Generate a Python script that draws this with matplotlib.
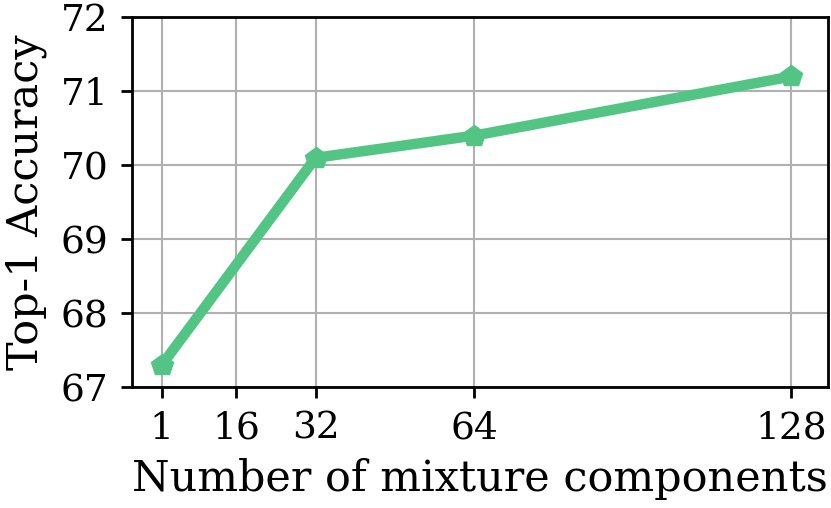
import numpy as np
import matplotlib.pyplot as plt

plt.rcParams['font.family'] = 'DejaVu Serif'

components = [1, 32, 64, 128]
accuracy = [67.3, 70.1, 70.4, 71.2]
xticks = [1, 16, 32, 64, 128]
yticks = [67, 68, 69, 70, 71, 72]

fig, ax = plt.subplots(figsize=(8.31, 5.08), dpi=100)
ax.plot(components, accuracy, color='#52c584', linewidth=7.5, marker='p',
        markersize=16, zorder=3)
ax.set_xticks(xticks)
ax.set_yticks(yticks)
ax.set_xlim(-5, 135.3)
ax.set_ylim(67, 72)
ax.grid(True, color='#b0b0b0', linewidth=1.5)
ax.tick_params(labelsize=27, width=2, length=8, pad=9)
for s in ax.spines.values():
    s.set_linewidth(2)
ax.set_xlabel('Number of mixture components', fontsize=31, labelpad=8)
ax.set_ylabel('Top-1 Accuracy', fontsize=31, labelpad=10)
fig.subplots_adjust(left=0.159, right=0.996, top=0.966, bottom=0.238)
fig.savefig('out.png')
